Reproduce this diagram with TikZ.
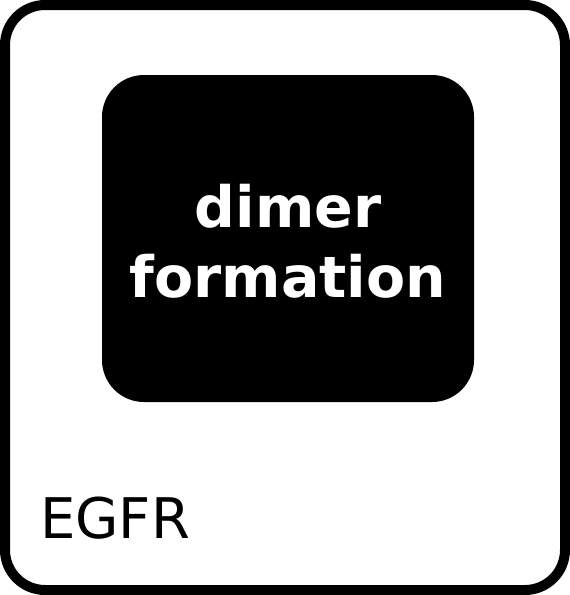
\documentclass[tikz,border=0pt]{standalone}
\usepackage{fontspec}
\setmainfont{DejaVu Sans}
\usetikzlibrary{positioning}
\tikzset{
  frame/.style={draw=black,line width=10pt,rounded corners=40pt},
  blackbox/.style={fill=black,rounded corners=42pt},
}
\begin{document}
\begin{tikzpicture}[x=1pt,y=-1pt]
        \useasboundingbox (0,0) rectangle (570,595);
        \draw[frame] (5,5) rectangle (565,590);
        \fill[blackbox] (102,75) rectangle (474,402);
        \node[text=white,font=\fontsize{57}{70}\selectfont\bfseries,align=center] (dimer) at (288,241) {dimer\\formation};
        \node[anchor=base west,inner sep=0pt,font=\fontsize{56}{60}\selectfont] (egfr) at (40,538) {EGFR};
      \end{tikzpicture}
\end{document}
